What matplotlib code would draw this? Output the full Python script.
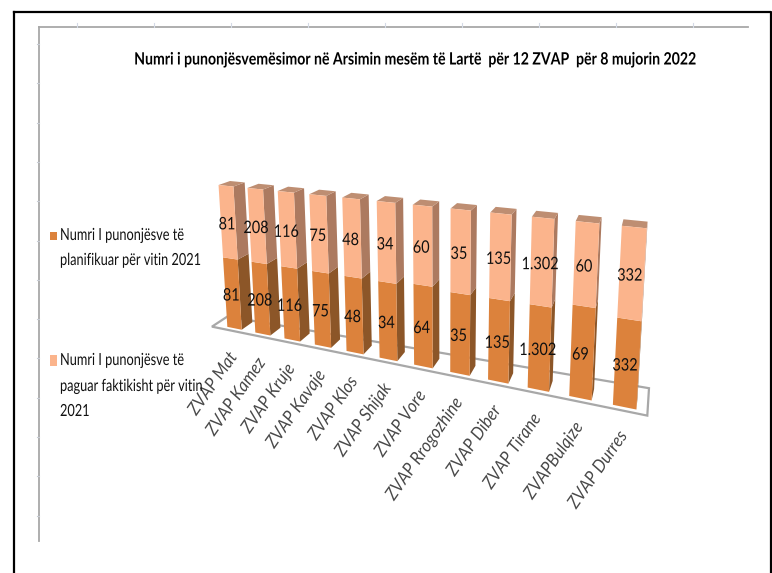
import numpy as np
import matplotlib
matplotlib.use("Agg")
import matplotlib.pyplot as plt
from matplotlib.patheffects import AbstractPathEffect
from matplotlib.transforms import Affine2D

plt.rcParams['font.family'] = ['Lato', 'DejaVu Sans']

# ---- data ----
categories = ['ZVAP Mat', 'ZVAP Kamez', 'ZVAP Kruje', 'ZVAP Kavaje', 'ZVAP Klos', 'ZVAP Shijak',
              'ZVAP Vore', 'ZVAP Rrogozhine', 'ZVAP Diber', 'ZVAP Tirane', 'ZVAPBulqize', 'ZVAP Durres']
planned = [81, 208, 116, 75, 48, 34, 64, 35, 135, 1302, 69, 332]
paid = [81, 208, 116, 75, 48, 34, 60, 35, 135, 1302, 60, 332]
title = 'Numri i punonjësvemësimor në Arsimin mesëm të Lartë  për 12 ZVAP  për 8 mujorin 2022'
legend_planned = ['Numri I punonjësve të', 'planifikuar për vitin 2021']
legend_paid = ['Numri I punonjësve të', 'paguar faktikisht për vitin', '2021']


def fmt(v):
    return f'{v:,}'.replace(',', '.')


class Condense(AbstractPathEffect):
    """Draw a text's glyphs narrower along its baseline."""

    def __init__(self, sx, anchor='left'):
        super().__init__()
        self.sx, self.anchor = sx, anchor

    def draw_path(self, renderer, gc, tpath, affine, rgbFace=None):
        ext = tpath.get_extents()
        x0 = {'left': 0.0, 'center': (ext.x0 + ext.x1) / 2, 'right': ext.x1}[self.anchor]
        t = Affine2D().translate(-x0, 0).scale(self.sx, 1).translate(x0, 0) + affine
        renderer.draw_path(gc, tpath, t, rgbFace)


# ---- colours ----
DARK_FRONT, DARK_SIDE = '#DC823C', '#8C5628'
LIGHT_FRONT, LIGHT_SIDE = '#FBB48C', '#AC7A60'
TOP = '#BE8E72'
GRID = '#A8A8A8'

# ---- camera: fitted from (category, depth, share) -> pixel pairs ----
world = np.array([(-.26, 0, 0), (-.26, 0, 1), (.26, 0, 0), (.26, 0, 1),
                  (10.74, 0, 0), (10.74, 0, 1), (11.26, 0, 0), (11.26, 0, 1),
                  (4.74, 0, 0), (4.74, 0, 1), (5.26, 0, 0), (5.26, 0, 1),
                  (.26, 1, 1), (.26, 1, 0), (11.26, 1, 1), (11.26, 1, 0),
                  (5.26, 1, 1), (5.26, 1, 0)], float)
pixel = np.array([(227, 328), (218, 187), (242, 327), (233, 186),
                  (613, 406), (623, 225), (636, 408), (646, 227),
                  (380, 359), (377, 202), (398, 361), (395, 203),
                  (245, 182), (252, 321), (647, 221), (637, 399),
                  (404, 198), (405, 353)], float)
rows, rhs = [], []
for (X, D, Z), (u, v) in zip(world, pixel):
    rows.append([X, D, Z, 1, 0, 0, 0, 0, -u * X, -u * D, -u * Z]); rhs.append(u)
    rows.append([0, 0, 0, 0, X, D, Z, 1, -v * X, -v * D, -v * Z]); rhs.append(v)
P = np.append(np.linalg.lstsq(np.array(rows), np.array(rhs), rcond=None)[0], 1).reshape(3, 4)


def project(X, D, Z):
    p = P @ np.array([X, D, Z, 1.0])
    return p[0] / p[2], p[1] / p[2]


fig = plt.figure(figsize=(7.72, 5.73), dpi=100)
ax = fig.add_axes([0, 0, 1, 1])
ax.set_xlim(0, 772)
ax.set_ylim(573, 0)
ax.axis('off')

# outer frame
ax.plot([14, 14], [573, 12], color='black', lw=1.6)
ax.plot([14, 770.5, 770.5], [12, 12, 573], color='black', lw=1.6)

# chart area lines and faint ticks
ax.plot([39, 39], [541, 27], color=GRID, lw=1.3)
ax.plot([39, 748], [27, 27], color=GRID, lw=1.3)
for y in np.arange(44, 530, 39.3):
    ax.plot([37, 39], [y, y], color='#C8CCD4', lw=0.8)
for x in np.arange(77, 748, 77):
    ax.plot([x, x], [23, 27], color='#D4DAE6', lw=0.8)

# title
ax.text(414, 59.5, title, ha='center', va='center', fontsize=12.2, fontweight='bold', color='black',
        path_effects=[Condense(0.832, 'center')])

# floor
half = 0.26
floor = [project(-.7, -.3, 0), project(11.5, -.3, 0), project(11.5, 2.0, 0), project(-.7, 1.1, 0)]
ax.fill(*zip(*floor), facecolor='white', edgecolor=GRID, lw=1.6, zorder=2)


def quad(i, d0, z0, d1, z1, side=False):
    if side:
        return [project(i + half, d0, z0), project(i + half, d1, z0),
                project(i + half, d1, z1), project(i + half, d0, z1)]
    return [project(i - half, d0, z0), project(i + half, d0, z0),
            project(i + half, d1, z1), project(i - half, d1, z1)]


for i, (cat, a, b) in enumerate(zip(categories, planned, paid)):
    share = a / (a + b)
    for pts, col in [(quad(i, 0, 0, 1, share, True), DARK_SIDE),
                     (quad(i, 0, share, 1, 1, True), LIGHT_SIDE),
                     (quad(i, 0, 1, 1, 1), TOP),
                     (quad(i, 0, 0, 0, share), DARK_FRONT),
                     (quad(i, 0, share, 0, 1), LIGHT_FRONT)]:
        ax.fill(*zip(*pts), color=col, lw=0, zorder=3 + i * .01)
    for val, z in [(a, share / 2), (b, (1 + share) / 2)]:
        x, y = project(i - .04, 0, z)
        ax.text(x, y + 2, fmt(val), ha='center', va='center', fontsize=12.4, color='#101010', zorder=5,
                path_effects=[Condense(0.84, 'center')])
    fx, fy = project(i, 0, 0)
    ax.text(fx - 1, fy + 26, cat, rotation=55, rotation_mode='anchor', ha='right', va='center',
            fontsize=13, color='#4A4A4A', style='italic', zorder=5,
            path_effects=[Condense(0.92, 'right')])

# legend
ax.fill([50, 57, 57, 50], [232, 232, 240, 240], color=DARK_FRONT, lw=0)
ax.fill([50, 57, 57, 50], [355, 355, 366, 366], color=LIGHT_FRONT, lw=0)
for y, line in zip([235, 260], legend_planned):
    ax.text(60, y, line, va='center', ha='left', fontsize=12, color='#111111',
            path_effects=[Condense(0.765, 'left')])
for y, line in zip([360, 386, 411], legend_paid):
    ax.text(60, y, line, va='center', ha='left', fontsize=12, color='#111111', zorder=6,
            path_effects=[Condense(0.765, 'left')])

fig.savefig('out.png', dpi=100)
